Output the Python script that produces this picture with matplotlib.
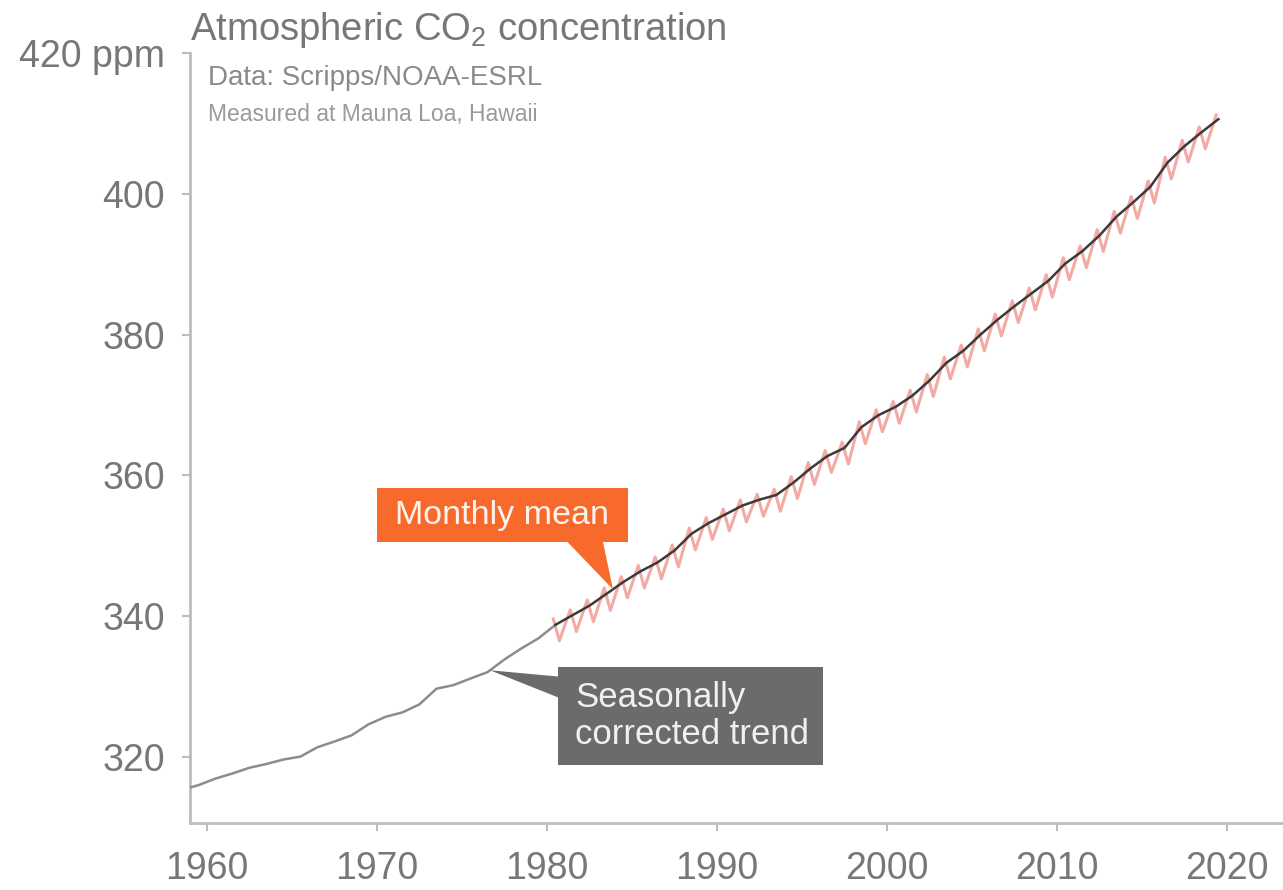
import numpy as np
import matplotlib
matplotlib.use("Agg")
import matplotlib.pyplot as plt
from matplotlib.patches import Polygon, Rectangle

plt.rcParams["font.family"] = ["Liberation Sans", "DejaVu Sans"]
plt.rcParams["mathtext.fontset"] = "custom"
plt.rcParams["mathtext.rm"] = "Liberation Sans"
plt.rcParams["mathtext.it"] = "Liberation Sans"

# Seasonally corrected trend (annual means, ppm), plotted at mid-year
trend_years = np.arange(1958, 2020) + 0.5
trend_ppm = [
    315.30, 315.98, 316.91, 317.64, 318.45, 318.99, 319.62, 320.04, 321.37, 322.18,
    323.05, 324.62, 325.68, 326.32, 327.46, 329.68, 330.19, 331.13, 332.03, 333.84,
    335.41, 336.84, 338.76, 340.12, 341.48, 343.15, 344.85, 346.35, 347.61, 349.31,
    351.69, 353.20, 354.45, 355.70, 356.54, 357.21, 358.96, 360.97, 362.74, 363.88,
    366.84, 368.54, 369.71, 371.32, 373.45, 375.98, 377.70, 379.98, 382.09, 384.02,
    385.83, 387.64, 390.10, 391.85, 394.06, 396.74, 398.81, 401.01, 404.41, 406.76,
    408.72, 410.60,
]

# Monthly mean: seasonal maximum (May) and minimum (late September) per year
monthly_years = np.arange(1980, 2020)
monthly_may = [
    339.6, 340.9, 342.3, 344.0, 345.6, 347.2, 348.4, 350.1, 352.5, 354.0,
    355.2, 356.5, 357.3, 358.0, 359.8, 361.8, 363.5, 364.7, 367.6, 369.3,
    370.5, 372.1, 374.3, 376.8, 378.5, 380.8, 382.9, 384.8, 386.6, 388.5,
    390.9, 392.6, 394.9, 397.5, 399.6, 401.8, 405.2, 407.6, 409.5, 411.2,
]
monthly_sep = [
    336.5, 337.8, 339.2, 340.8, 342.6, 344.0, 345.3, 347.0, 349.4, 350.9,
    352.1, 353.4, 354.2, 354.9, 356.7, 358.7, 360.4, 361.6, 364.5, 366.2,
    367.4, 369.0, 371.2, 373.7, 375.4, 377.7, 379.8, 381.7, 383.5, 385.3,
    387.8, 389.5, 391.8, 394.4, 396.5, 398.7, 402.1, 404.5, 406.4,
]

x_ticks = [1960, 1970, 1980, 1990, 2000, 2010, 2020]
y_ticks = [320, 340, 360, 380, 400, 420]
y_tick_labels = ["320", "340", "360", "380", "400", "420 ppm"]

# interleave seasonal maxima/minima into one zigzag series
mx, my = [], []
for i, yr in enumerate(monthly_years):
    mx.append(yr + 0.37)
    my.append(monthly_may[i])
    if i < len(monthly_sep):
        mx.append(yr + 0.73)
        my.append(monthly_sep[i])
mx = np.array(mx)
my = np.array(my)

W, H = 1283, 890
fig = plt.figure(figsize=(W / 100, H / 100), dpi=100)
fig.patch.set_facecolor("white")
ax = fig.add_axes([190 / W, 1 - 823 / H, (W - 190) / W, (823 - 53) / H])
ax.set_facecolor("white")

ax.set_xlim(1959.0, 2023.3)
ax.set_ylim(310.6, 420)

TXT = "#777777"
SPINE = "#bdbdbd"

# monthly mean zigzag
ax.plot(mx, my, color="#f3a19a", lw=2.2, alpha=0.9, zorder=2)

# trend: grey before the monthly record starts, dark once they overlap
ty = np.array(trend_years)
tp = np.array(trend_ppm)
ax.plot(ty[ty <= 1980.5], tp[ty <= 1980.5], color="#8c8c8c", lw=1.8, zorder=3)
ax.plot(ty[ty >= 1980.5], tp[ty >= 1980.5], color="#3a3a3a", lw=1.8, zorder=4)

# spines and ticks
for s in ["top", "right"]:
    ax.spines[s].set_visible(False)
for s in ["left", "bottom"]:
    ax.spines[s].set_color(SPINE)
    ax.spines[s].set_linewidth(2)
ax.set_xticks(x_ticks)
ax.set_xticklabels([str(v) for v in x_ticks])
ax.set_yticks(y_ticks)
ax.set_yticklabels(y_tick_labels)
ax.tick_params(axis="both", colors=SPINE, length=6, width=1.5, labelsize=27,
               labelcolor=TXT)
ax.tick_params(axis="x", pad=14)
ax.tick_params(axis="y", pad=12)

# "Monthly mean" callout
orange = "#f76a2c"
ax.add_patch(Rectangle((1970.0, 350.5), 14.76, 7.7, facecolor=orange,
                       edgecolor="none", zorder=5))
tip_x = 1983.88
ax.add_patch(Polygon([(1981.18, 350.6), (1983.29, 350.6),
                      (tip_x, np.interp(tip_x, ty, tp))],
                     closed=True, facecolor=orange, edgecolor="none", zorder=5))
ax.text(1977.38, 354.35, "Monthly mean", color="#fff4ee", fontsize=24.5,
        ha="center", va="center", zorder=6)

# "Seasonally corrected trend" callout
grey = "#6b6b6b"
ax.add_patch(Rectangle((1980.65, 318.9), 15.59, 13.9, facecolor=grey,
                       edgecolor="none", zorder=5))
tip_x2 = 1976.65
ax.add_patch(Polygon([(1980.7, 331.4), (1980.7, 328.4),
                      (tip_x2, np.interp(tip_x2, ty, tp))],
                     closed=True, facecolor=grey, edgecolor="none", zorder=5))
ax.text(1981.65, 325.85, "Seasonally\ncorrected trend", color="#f0f0f0",
        fontsize=25, ha="left", va="center", linespacing=1.15, zorder=6)

# headings
fig.text(190 / W, 1 - 30 / H, r"Atmospheric CO$_2$ concentration", color=TXT,
         fontsize=27.5, ha="left", va="center")
fig.text(208 / W, 1 - 78 / H, "Data: Scripps/NOAA-ESRL", color="#8a8a8a",
         fontsize=20, ha="left", va="center")
fig.text(208 / W, 1 - 115 / H, "Measured at Mauna Loa, Hawaii", color="#9a9a9a",
         fontsize=16.5, ha="left", va="center")

fig.savefig("out.png", dpi=100, facecolor="white")
